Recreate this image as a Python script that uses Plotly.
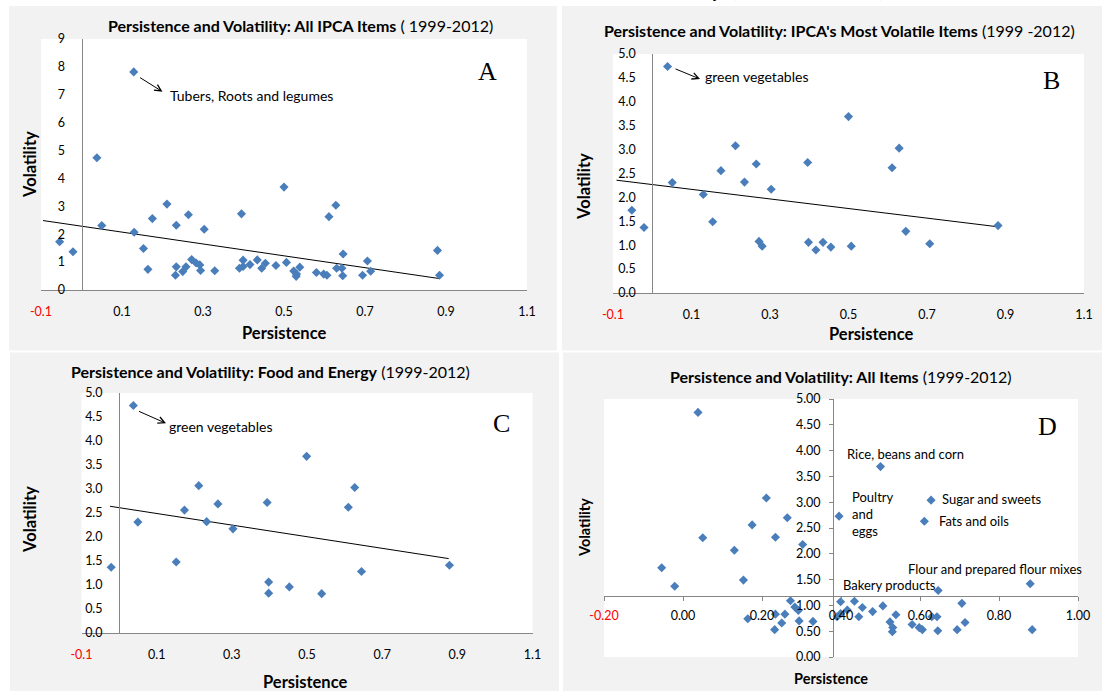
import plotly.graph_objects as go

W, H = 1102, 691

# ---------------- data ----------------
# All IPCA items (panels A and D)
all_persistence = [-0.054, -0.021, 0.038, 0.050, 0.129, 0.130, 0.153, 0.164, 0.175, 0.211,
                   0.234, 0.234, 0.232, 0.250, 0.258, 0.264, 0.272, 0.283, 0.292, 0.294,
                   0.303, 0.329, 0.390, 0.395, 0.399, 0.399, 0.416, 0.434, 0.445, 0.454,
                   0.480, 0.500, 0.506, 0.524, 0.531, 0.530, 0.539, 0.580, 0.598, 0.606,
                   0.611, 0.628, 0.630, 0.643, 0.646, 0.645, 0.694, 0.706, 0.714, 0.879,
                   0.884]
all_volatility = [1.73, 1.37, 4.74, 2.31, 7.82, 2.07, 1.49, 0.74, 2.56, 3.08,
                  2.32, 0.83, 0.53, 0.66, 0.83, 2.70, 1.09, 0.97, 0.90, 0.70,
                  2.18, 0.69, 0.78, 2.73, 1.07, 0.84, 0.91, 1.08, 0.78, 0.96,
                  0.88, 3.69, 0.99, 0.68, 0.57, 0.49, 0.82, 0.63, 0.57, 0.53,
                  2.63, 3.04, 0.78, 0.78, 1.29, 0.51, 0.53, 1.04, 0.67, 1.42,
                  0.53]

# IPCA's most volatile items (panel B)
vol_persistence = [-0.052, -0.021, 0.039, 0.051, 0.130, 0.154, 0.175, 0.212, 0.235, 0.265,
                   0.272, 0.280, 0.303, 0.396, 0.398, 0.417, 0.435, 0.455, 0.500, 0.507,
                   0.611, 0.629, 0.646, 0.707, 0.881]
vol_volatility = [1.73, 1.37, 4.74, 2.31, 2.06, 1.49, 2.56, 3.08, 2.32, 2.70,
                  1.08, 0.98, 2.17, 2.73, 1.06, 0.90, 1.06, 0.96, 3.69, 0.98,
                  2.62, 3.03, 1.29, 1.03, 1.41]

# Food and energy (panel C)
fe_persistence = [-0.021, 0.038, 0.050, 0.152, 0.174, 0.212, 0.233, 0.263, 0.303, 0.394,
                  0.398, 0.398, 0.453, 0.499, 0.539, 0.610, 0.627, 0.645, 0.879]
fe_volatility = [1.37, 4.74, 2.31, 1.48, 2.56, 3.07, 2.32, 2.69, 2.17, 2.72,
                 1.06, 0.83, 0.96, 3.68, 0.82, 2.62, 3.03, 1.28, 1.41]

# linear trend lines (end points)
trend_A_x = [-0.095, 0.884]
trend_A_y = [2.49, 0.41]
trend_B_x = [-0.091, 0.881]
trend_B_y = [2.36, 1.385]
trend_C_x = [-0.024, 0.877]
trend_C_y = [2.64, 1.55]

# tick values
ticks_x_abc = [-0.1, 0.1, 0.3, 0.5, 0.7, 0.9, 1.1]
ticks_y_a = list(range(0, 10))
ticks_y_bc = [0.0, 0.5, 1.0, 1.5, 2.0, 2.5, 3.0, 3.5, 4.0, 4.5, 5.0]
ticks_x_d = [-0.2, 0.0, 0.2, 0.4, 0.6, 0.8, 1.0]
ticks_y_d = [0.0, 0.5, 1.0, 1.5, 2.0, 2.5, 3.0, 3.5, 4.0, 4.5, 5.0]
d_cross = (0.38, 1.18)   # where the axes of panel D cross

titles = {
    "A": "<b>Persistence and Volatility: All IPCA Items</b> ( 1999-2012)",
    "B": "<b>Persistence and Volatility: IPCA's Most Volatile Items</b> (1999 -2012)",
    "C": "<b>Persistence and Volatility: Food and Energy</b> (1999-2012)",
    "D": "<b>Persistence and Volatility: All Items</b> (1999-2012)",
}

# ---------------- helpers ----------------
FONT = "Lato, Carlito, Calibri, sans-serif"
SERIF = "Liberation Serif, Times New Roman, serif"
BLUE = "#4A7EBB"
AXIS = "#868686"
PANEL = "#F2F2F2"


def fx(p):
    return p / W


def fy(p):
    return 1 - p / H


def fmt(v, d, red_neg=True):
    s = f"{v:.{d}f}"
    if v < 0 and red_neg:
        return f"<span style='color:#FF0000'>{s}</span>"
    return s


fig = go.Figure()

# panels: name -> (x domain px, y domain px (top,bottom), xrange, yrange)
panels = {
    "A": dict(xd=(41, 527), yd=(39, 290), xr=(-0.1, 1.1), yr=(0, 9)),
    "B": dict(xd=(613, 1084), yd=(54, 293), xr=(-0.1, 1.1), yr=(0, 5)),
    "C": dict(xd=(81.5, 532.5), yd=(393, 633), xr=(-0.1, 1.1), yr=(0, 5)),
    "D": dict(xd=(604, 1078), yd=(399, 657), xr=(-0.2, 1.0), yr=(0, 5)),
}
backgrounds = {
    "A": (9, 6, 557, 350.5),
    "B": (562, 6, 1102, 350.5),
    "C": (10, 352.5, 559, 691),
    "D": (563, 352.5, 1102, 691),
}

shapes = []
for k, (x0, y0, x1, y1) in backgrounds.items():
    shapes.append(dict(type="rect", xref="paper", yref="paper", x0=fx(x0), x1=fx(x1),
                       y0=fy(y1), y1=fy(y0), fillcolor=PANEL, line=dict(width=0), layer="below"))
for k, p in panels.items():
    shapes.append(dict(type="rect", xref="paper", yref="paper", x0=fx(p["xd"][0]), x1=fx(p["xd"][1]),
                       y0=fy(p["yd"][1]), y1=fy(p["yd"][0]), fillcolor="white",
                       line=dict(width=0), layer="below"))

axis_ids = {"A": ("x", "y", "xaxis", "yaxis"), "B": ("x2", "y2", "xaxis2", "yaxis2"),
            "C": ("x3", "y3", "xaxis3", "yaxis3"), "D": ("x4", "y4", "xaxis4", "yaxis4")}

layout_axes = {}
for k, p in panels.items():
    xid, yid, xname, yname = axis_ids[k]
    xd = [fx(p["xd"][0]), fx(p["xd"][1])]
    yd = [fy(p["yd"][1]), fy(p["yd"][0])]
    xr, yr = p["xr"], p["yr"]
    if k == "D":
        cx, cy = d_cross
    else:
        cx, cy = 0.0, 0.0
    ypos = xd[0] + (cx - xr[0]) / (xr[1] - xr[0]) * (xd[1] - xd[0])
    xpos = yd[0] + (cy - yr[0]) / (yr[1] - yr[0]) * (yd[1] - yd[0])
    if k == "A":
        xt, yt = ticks_x_abc, ticks_y_a
        xtt = [fmt(v, 1) for v in xt]
        ytt = [str(v) for v in yt]
    elif k in ("B", "C"):
        xt, yt = ticks_x_abc, ticks_y_bc
        xtt = [fmt(v, 1) for v in xt]
        ytt = [fmt(v, 1) for v in yt]
    else:
        xt, yt = ticks_x_d, ticks_y_d
        xtt = [fmt(v, 2) for v in xt]
        ytt = [fmt(v, 2) for v in yt]
    tickd = dict(ticks="outside", ticklen=4, tickcolor=AXIS) if k == "D" else dict(ticks="")
    layout_axes[xname] = dict(
        domain=xd, range=list(xr), anchor="free", position=xpos,
        tickmode="array", tickvals=xt, ticktext=xtt,
        showline=True, linecolor=AXIS, linewidth=1, showgrid=False, zeroline=False,
        tickfont=dict(family=FONT, size=12.5, color="black"),
        ticklabelstandoff=(4 if k == "D" else 10), **tickd,
    )
    layout_axes[yname] = dict(
        domain=yd, range=list(yr), anchor="free", position=ypos,
        tickmode="array", tickvals=yt, ticktext=ytt,
        showline=True, linecolor=AXIS, linewidth=1, showgrid=False, zeroline=False,
        tickfont=dict(family=FONT, size=12.5, color="black"),
        ticklabelstandoff=(6 if k == "D" else 14), **tickd,
    )

series = {
    "A": (all_persistence, all_volatility),
    "B": (vol_persistence, vol_volatility),
    "C": (fe_persistence, fe_volatility),
    "D": (all_persistence, all_volatility),
}
trends = {"A": (trend_A_x, trend_A_y), "B": (trend_B_x, trend_B_y), "C": (trend_C_x, trend_C_y)}

for k in panels:
    xid, yid, _, _ = axis_ids[k]
    if k in trends:
        tx, ty = trends[k]
        fig.add_trace(go.Scatter(x=tx, y=ty, mode="lines", line=dict(color="black", width=1),
                                 xaxis=xid, yaxis=yid, hoverinfo="skip"))
    sx, sy = series[k]
    fig.add_trace(go.Scatter(x=sx, y=sy, mode="markers", cliponaxis=True,
                             marker=dict(symbol="diamond", size=7, color=BLUE, line=dict(width=0)),
                             xaxis=xid, yaxis=yid))

ann = []


def text(x, y, t, size=12, bold=False, anchor="center", angle=0, family=FONT, color="black"):
    ann.append(dict(x=fx(x), y=fy(y), xref="paper", yref="paper", text=(f"<b>{t}</b>" if bold else t),
                    showarrow=False, xanchor=anchor, yanchor="middle", textangle=angle,
                    align=("left" if anchor == "left" else "center"),
                    font=dict(family=family, size=size, color=color)))


# chart titles
text(300, 25, titles["A"], 16)
text(839, 30, titles["B"], 16)
text(270, 371, titles["C"], 16)
text(840, 377, titles["D"], 16)

# axis titles
text(30, 165, "Volatility", 16.5, True, angle=-90)
text(284, 333, "Persistence", 16.5, True)
text(584, 187, "Volatility", 16.5, True, angle=-90)
text(871, 334, "Persistence", 16.5, True)
text(30, 520, "Volatility", 16.5, True, angle=-90)
text(305, 682, "Persistence", 16.5, True)
text(584, 528, "Volatility", 14.5, True, angle=-90)
text(831, 678, "Persistence", 14.5, True)

# panel letters
text(487, 72, "A", 26, family=SERIF)
text(1051, 80, "B", 26, family=SERIF)
text(501, 423, "C", 26, family=SERIF)
text(1047, 427, "D", 26, family=SERIF)

# labelled items
text(168, 95, "Tubers, Roots and legumes", 14, anchor="left")
text(703, 77, "green vegetables", 14, anchor="left")
text(167, 427, "green vegetables", 14, anchor="left")
text(845, 454, "Rice, beans and corn", 13, anchor="left")
text(850, 514, "Poultry<br>and<br>eggs", 13, anchor="left")
text(940, 499, "Sugar and sweets", 13, anchor="left")
text(937, 521, "Fats and oils", 13, anchor="left")
text(906, 569, "Flour and prepared flour mixes", 13, anchor="left")
text(841, 585, "Bakery products", 13, anchor="left")

# arrows
for (hx, hy, tx_, ty_) in [(162.5, 91.7, 138.6, 76.7), (700, 79, 674, 68.3), (166, 423.3, 137.5, 410.7)]:
    ann.append(dict(x=fx(hx), y=fy(hy), xref="paper", yref="paper", text="", showarrow=True,
                    ax=tx_ - hx, ay=ty_ - hy, axref="pixel", ayref="pixel",
                    arrowhead=5, arrowsize=1.3, arrowwidth=1, arrowcolor="black", standoff=0))

# fragment of a heading cut off at the top edge
ann.append(dict(x=fx(888), y=fy(-15), xref="paper", yref="paper",
                text="Persistence and Volatility (1999-2012)", showarrow=False,
                xanchor="right", yanchor="middle", font=dict(family=FONT, size=28, color="black")))

fig.update_layout(
    width=W, height=H, margin=dict(l=0, r=0, t=0, b=0, autoexpand=False),
    paper_bgcolor="white", plot_bgcolor="rgba(0,0,0,0)",
    showlegend=False, shapes=shapes, annotations=ann,
    font=dict(family=FONT, size=12, color="black"),
    **layout_axes,
)

fig.write_html("out.html", config={"displayModeBar": False},
               post_script="document.body.style.margin='0';document.body.style.overflow='hidden';")
